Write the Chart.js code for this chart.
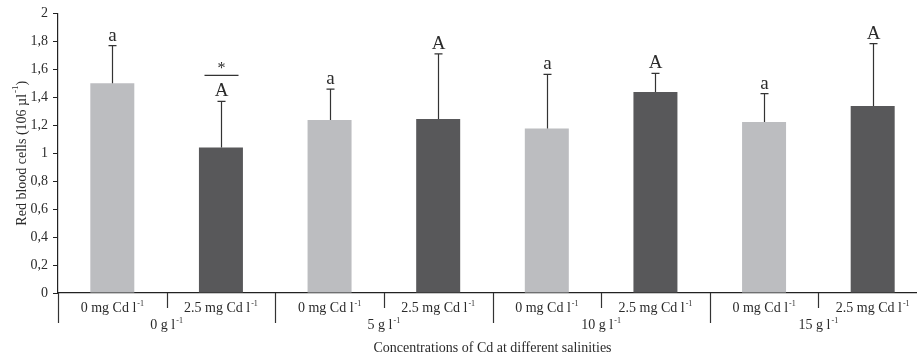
<!DOCTYPE html>
<html>
<head>
<meta charset="utf-8">
<script src="https://cdn.jsdelivr.net/npm/chart.js@4/dist/chart.umd.min.js"></script>
<style>
  html, body { margin: 0; padding: 0; background: #fff; overflow: hidden; }
  #wrap { width: 935px; height: 360px; position: relative; }
</style>
</head>
<body>
<div id="wrap"><canvas id="rbc"></canvas></div>
<script>
// ── Data ─────────────────────────────────────────────────────────
// '^' marks a superscript part of a label
const categories = ['0 mg Cd l^-1', '2.5 mg Cd l^-1', '0 mg Cd l^-1', '2.5 mg Cd l^-1',
                    '0 mg Cd l^-1', '2.5 mg Cd l^-1', '0 mg Cd l^-1', '2.5 mg Cd l^-1'];
const groups     = ['0 g l^-1', '5 g l^-1', '10 g l^-1', '15 g l^-1'];
const means      = [1.50, 1.04, 1.238, 1.245, 1.177, 1.438, 1.224, 1.338];
const upperErr   = [1.77, 1.37, 1.459, 1.71, 1.564, 1.571, 1.426, 1.784];
const letters    = ['a', 'A', 'a', 'A', 'a', 'A', 'a', 'A'];
const starred    = [false, true, false, false, false, false, false, false];
const yTicks     = [0, 0.2, 0.4, 0.6, 0.8, 1, 1.2, 1.4, 1.6, 1.8, 2];

const LIGHT = '#bcbdc0';
const DARK  = '#58585a';
const INK   = '#2b2b2b';
const SERIF = '"Liberation Serif", "DejaVu Serif", serif';

// draw text with a '^' superscript part, anchored by align
function supText(ctx, str, x, y, size, align) {
  const [base, sup] = str.split('^');
  ctx.font = size + 'px ' + SERIF;
  const wb = ctx.measureText(base).width;
  ctx.font = Math.round(size * 0.6) + 'px ' + SERIF;
  const ws = sup ? ctx.measureText(sup).width : 0;
  const total = wb + ws + (sup ? 1 : 0);
  let x0 = x;
  if (align === 'center') x0 = x - total / 2;
  ctx.textAlign = 'left';
  ctx.textBaseline = 'alphabetic';
  ctx.font = size + 'px ' + SERIF;
  ctx.fillText(base, x0, y);
  if (sup) {
    ctx.font = Math.round(size * 0.6) + 'px ' + SERIF;
    ctx.fillText(sup, x0 + wb + 1, y - size * 0.42);
  }
}

// ── Error bars, letters, and the x axis decorations ─────────────
const decor = {
  id: 'decor',
  afterDatasetsDraw(chart) {
    const { ctx, scales: { x, y }, chartArea } = chart;
    const meta = chart.getDatasetMeta(0);
    ctx.save();
    ctx.fillStyle = INK;
    ctx.strokeStyle = '#333';
    ctx.lineWidth = 1.2;

    meta.data.forEach((bar, i) => {
      const cx = Math.round(bar.x) + 0.5;
      const yTop = y.getPixelForValue(upperErr[i]);
      // whisker + cap
      ctx.beginPath();
      ctx.moveTo(cx, bar.y);
      ctx.lineTo(cx, yTop);
      ctx.moveTo(cx - 4, yTop);
      ctx.lineTo(cx + 4, yTop);
      ctx.stroke();
      // letter
      ctx.font = '19px ' + SERIF;
      ctx.textAlign = 'center';
      ctx.textBaseline = 'alphabetic';
      ctx.fillText(letters[i], cx, yTop - 5);
      if (starred[i]) {
        ctx.beginPath();
        ctx.moveTo(cx - 17, yTop - 26);
        ctx.lineTo(cx + 17, yTop - 26);
        ctx.stroke();
        ctx.font = '16px ' + SERIF;
        ctx.fillText('*', cx, yTop - 28);
      }
    });

    // category separators below the axis
    const step = (chartArea.right - chartArea.left) / categories.length;
    const base = chartArea.bottom;
    ctx.lineWidth = 1.2;
    for (let i = 0; i <= categories.length; i++) {
      const px = Math.round(chartArea.left + i * step) + 0.5;
      ctx.beginPath();
      ctx.moveTo(px, base);
      ctx.lineTo(px, base + (i % 2 === 0 ? 30 : 15));
      ctx.stroke();
    }

    // category and group labels
    ctx.fillStyle = INK;
    categories.forEach((c, i) => {
      supText(ctx, c, x.getPixelForValue(i), base + 19, 14, 'center');
    });
    groups.forEach((g, i) => {
      const gx = chartArea.left + (2 * i + 1) * step;
      supText(ctx, g, gx, base + 36, 14, 'center');
    });
    // x title
    ctx.font = '14px ' + SERIF;
    ctx.textAlign = 'center';
    ctx.fillText('Concentrations of Cd at different salinities',
      (chartArea.left + chartArea.right) / 2, base + 59);

    // y title (rotated)
    ctx.translate(22, (chartArea.top + chartArea.bottom) / 2);
    ctx.rotate(-Math.PI / 2);
    ctx.font = '14px ' + SERIF;
    const t = 'Red blood cells (106 \u00b5l';
    const w1 = ctx.measureText(t).width;
    ctx.font = '9px ' + SERIF;
    const w2 = ctx.measureText('-1').width;
    ctx.font = '14px ' + SERIF;
    const w3 = ctx.measureText(')').width;
    const start = -(w1 + w2 + w3 + 1) / 2;
    ctx.textAlign = 'left';
    ctx.textBaseline = 'middle';
    ctx.fillText(t, start, 0);
    ctx.font = '9px ' + SERIF;
    ctx.fillText('-1', start + w1 + 1, -6);
    ctx.font = '14px ' + SERIF;
    ctx.fillText(')', start + w1 + w2 + 1, 0);
    ctx.restore();
  }
};

new Chart(document.getElementById('rbc'), {
  type: 'bar',
  data: {
    labels: categories,
    datasets: [{
      data: means,
      backgroundColor: means.map((_, i) => (i % 2 === 0 ? LIGHT : DARK)),
      borderWidth: 0,
      categoryPercentage: 1,
      barPercentage: 0.405
    }]
  },
  options: {
    responsive: true,
    maintainAspectRatio: false,
    animation: false,
    layout: { padding: { top: 12, right: 8, left: 0, bottom: 0 } },
    plugins: { legend: { display: false }, tooltip: { enabled: false } },
    scales: {
      x: {
        offset: true,
        grid: { display: false },
        border: { display: true, color: '#222', width: 1.2 },
        ticks: { display: false },
        afterFit: s => { s.height = 67; }
      },
      y: {
        min: 0,
        max: 2,
        afterBuildTicks: s => { s.ticks = yTicks.map(v => ({ value: v })); },
        afterFit: s => { s.width = 58; },
        grid: { drawOnChartArea: false, drawTicks: true, tickLength: 5, color: '#222' },
        border: { display: true, color: '#222', width: 1.2 },
        ticks: {
          color: INK,
          padding: 5,
          font: { family: SERIF, size: 14 },
          callback: v => String(v).replace('.', ',')
        }
      }
    }
  },
  plugins: [decor]
});
</script>
</body>
</html>
